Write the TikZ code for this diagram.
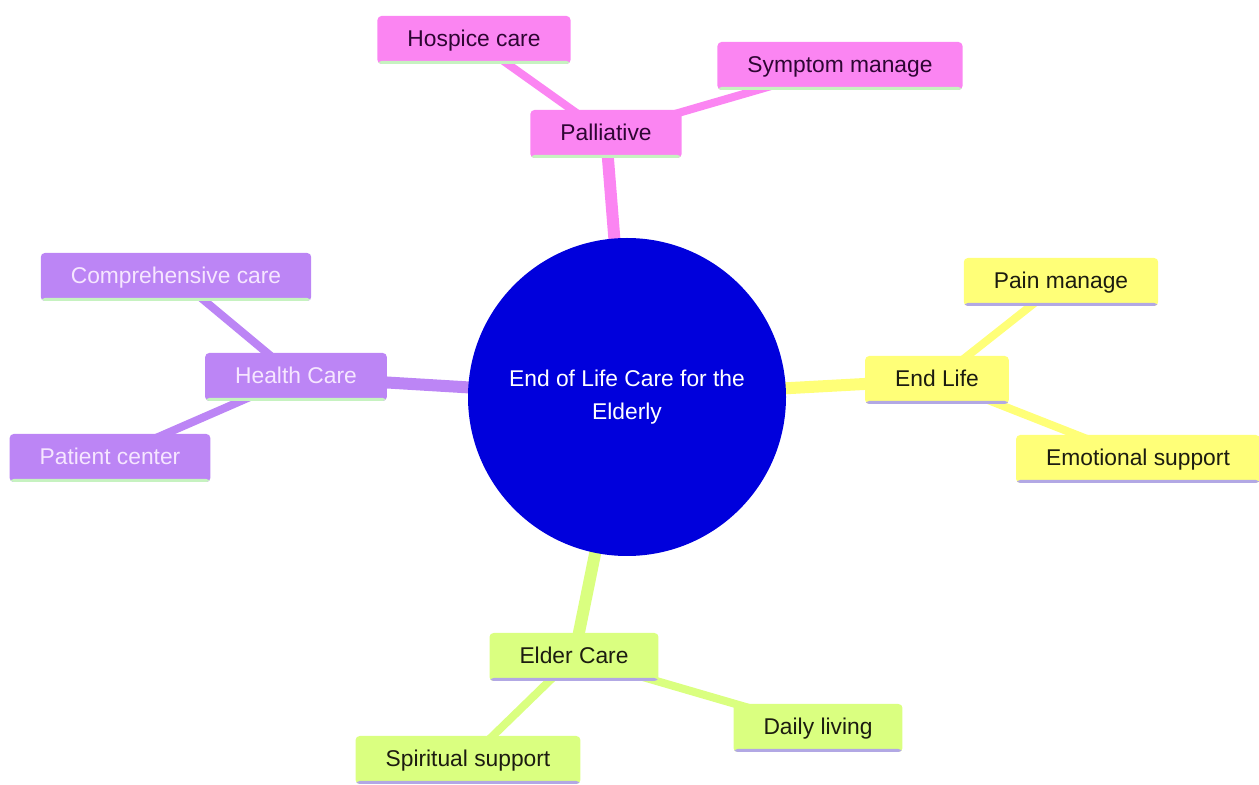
\documentclass[tikz,border=0pt]{standalone}
\usepackage{fontspec}
\setmainfont{Liberation Sans}
\usetikzlibrary{backgrounds}

\definecolor{rootblue}{HTML}{0000DC}
\definecolor{palpink}{HTML}{FB85F2}
\definecolor{palink}{HTML}{2E0633}
\definecolor{hcpurple}{HTML}{BC85F5}
\definecolor{hcink}{HTML}{F6E6FF}
\definecolor{elyellow}{HTML}{FFFF78}
\definecolor{ecgreen}{HTML}{DAFF80}
\definecolor{darkink}{HTML}{1C1C10}
\definecolor{lightgreen}{HTML}{C6F2C0}
\definecolor{lavender}{HTML}{B2A8E4}

\tikzset{
	box/.style={rectangle, rounded corners=2pt, minimum height=24pt, inner xsep=15pt, inner ysep=0pt,
		font=\fontsize{11.4}{14}\selectfont, text depth=1.5pt,
		path picture={\fill[#1] ([yshift=-1pt]path picture bounding box.south west) rectangle ([yshift=1.5pt]path picture bounding box.south east);}},
	palbox/.style={box=lightgreen, fill=palpink, text=palink},
	hcbox/.style={box=lightgreen, fill=hcpurple, text=hcink},
	elbox/.style={box=lavender, fill=elyellow, text=darkink},
	ecbox/.style={box=lavender, fill=ecgreen, text=darkink},
	trunk/.style={line width=6pt},
	twig/.style={line width=4pt},
}

\begin{document}
\begin{tikzpicture}[x=0.5pt, y=-0.5pt]
	\useasboundingbox (0,0) rectangle (1259,785);

	\node[circle, fill=rootblue, text=white, minimum size=159pt, inner sep=0pt, align=center, font=\fontsize{11.4}{16.5}\selectfont] (root) at (627,397) {End of Life Care for the\\Elderly};

	\node[palbox] (pal) at (606,134) {Palliative};
	\node[palbox] (hosp) at (474,40) {Hospice care};
	\node[palbox] (symp) at (840,66) {Symptom manage};

	\node[hcbox] (hc) at (296,377) {Health Care};
	\node[hcbox] (comp) at (176,277) {Comprehensive care};
	\node[hcbox] (pat) at (110,458) {Patient center};

	\node[elbox] (el) at (937,380) {End Life};
	\node[elbox] (pain) at (1061,282) {Pain manage};
	\node[elbox] (emo) at (1138,459) {Emotional support};

	\node[ecbox] (ec) at (574,657) {Elder Care};
	\node[ecbox] (daily) at (818,728) {Daily living};
	\node[ecbox] (spir) at (468,760) {Spiritual support};

	\begin{scope}[on background layer]
		\draw[palpink,trunk] (root.center) -- (pal.center);
		\draw[palpink,twig] (pal.center) -- (hosp.center);
		\draw[palpink,twig] (pal.center) -- (symp.center);
		\draw[hcpurple,trunk] (root.center) -- (hc.center);
		\draw[hcpurple,twig] (hc.center) -- (comp.center);
		\draw[hcpurple,twig] (hc.center) -- (pat.center);
		\draw[elyellow,trunk] (root.center) -- (el.center);
		\draw[elyellow,twig] (el.center) -- (pain.center);
		\draw[elyellow,twig] (el.center) -- (emo.center);
		\draw[ecgreen,trunk] (root.center) -- (ec.center);
		\draw[ecgreen,twig] (ec.center) -- (daily.center);
		\draw[ecgreen,twig] (ec.center) -- (spir.center);
	\end{scope}
\end{tikzpicture}
\end{document}
